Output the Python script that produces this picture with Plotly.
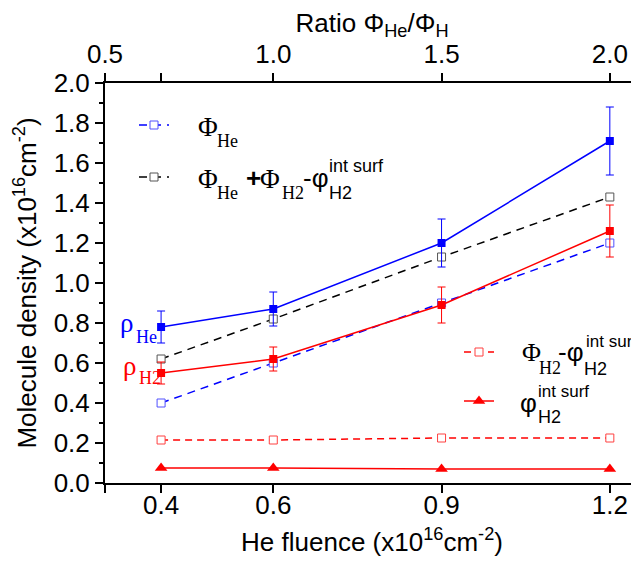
import plotly.graph_objects as go

# ---------------- data ----------------
fluence = [0.4, 0.6, 0.9, 1.2]
rho_he = [0.78, 0.87, 1.20, 1.71]
rho_he_err = [0.08, 0.085, 0.12, 0.17]
rho_h2 = [0.55, 0.62, 0.89, 1.26]
rho_h2_err = [0.055, 0.06, 0.09, 0.13]
phi_he = [0.40, 0.60, 0.90, 1.20]
phi_sum = [0.62, 0.82, 1.13, 1.43]
phi_h2_minus_surf = [0.215, 0.215, 0.225, 0.225]
phi_h2_surf = [0.075, 0.075, 0.07, 0.07]

x_tick_vals = [0.3, 0.4, 0.6, 0.9, 1.2]
x_tick_text = ["", "0.4", "0.6", "0.9", "1.2"]
ratio_tick_vals = [0.5, 0.4 / 0.6, 1.0, 1.5, 2.0]
ratio_tick_text = ["0.5", "", "1.0", "1.5", "2.0"]
y_tick_vals = [0.0, 0.2, 0.4, 0.6, 0.8, 1.0, 1.2, 1.4, 1.6, 1.8, 2.0]

X_RANGE = [0.3, 1.252]
RATIO_PER_FLUENCE = 1 / 0.6

BLUE = "#0000ff"
RED = "#ff0000"
SANS = "Arial, Liberation Sans, sans-serif"
SERIF = "Times New Roman, Liberation Serif, serif"

# page has an 8px body margin: figure origin sits at page (8, 8)
OFF = 8
W, H = 639 - OFF, 561 - OFF
ML, MR, MT, MB = 105 - OFF, 0, 83 - OFF, 78

fig = go.Figure()

fig.add_trace(go.Scatter(
    x=fluence, y=phi_h2_surf, mode="lines+markers", name=" ",
    line=dict(color=RED, width=1.5),
    marker=dict(symbol="triangle-up", size=11, color=RED),
    legend="legend4"))
fig.add_trace(go.Scatter(
    x=fluence, y=phi_h2_minus_surf, mode="lines+markers", name=" ",
    line=dict(color=RED, width=1.5, dash="7px,5px"),
    marker=dict(symbol="square", size=8, color="white",
                line=dict(color="#ff4040", width=1)),
    legend="legend3"))
fig.add_trace(go.Scatter(
    x=fluence, y=phi_he, mode="lines+markers", name=" ",
    line=dict(color=BLUE, width=1.5, dash="8px,6px"),
    marker=dict(symbol="square", size=8, color="white",
                line=dict(color="#5050ff", width=1)),
    legend="legend"))
fig.add_trace(go.Scatter(
    x=fluence, y=phi_sum, mode="lines+markers", name=" ",
    line=dict(color="black", width=1.5, dash="8px,6px"),
    marker=dict(symbol="square", size=8, color="white",
                line=dict(color="#555555", width=1)),
    legend="legend2"))
fig.add_trace(go.Scatter(
    x=fluence, y=rho_h2, mode="lines+markers", showlegend=False,
    line=dict(color=RED, width=1.5),
    marker=dict(symbol="square", size=8, color=RED),
    error_y=dict(type="data", array=rho_h2_err, color=RED, thickness=1, width=4)))
fig.add_trace(go.Scatter(
    x=fluence, y=rho_he, mode="lines+markers", showlegend=False,
    line=dict(color=BLUE, width=1.5),
    marker=dict(symbol="square", size=8, color=BLUE),
    error_y=dict(type="data", array=rho_he_err, color=BLUE, thickness=1, width=4)))
# invisible trace to activate top axis
fig.add_trace(go.Scatter(
    x=[v * RATIO_PER_FLUENCE for v in fluence], y=phi_he, xaxis="x2",
    mode="markers", marker=dict(opacity=0), showlegend=False, hoverinfo="skip"))


def px(xp):
    # xp: page pixel
    return (xp - OFF - ML) / (W - ML - MR)


def py(yp):
    return (H - MB - (yp - OFF)) / (H - MT - MB)


annots = []


def txt(s, xp, yp, size, family, color="black", bold=False):
    if bold:
        s = "<b>" + s + "</b>"
    annots.append(dict(text=s, x=px(xp), y=py(yp), xref="paper", yref="paper",
                       xanchor="left", yanchor="middle", showarrow=False,
                       font=dict(size=size, family=family, color=color)))


# Legend 1 labels
txt("Φ", 196, 127, 27, SERIF)
txt("He", 215, 141, 18, SERIF)
txt("Φ", 196, 179, 27, SERIF)
txt("He", 215, 193, 18, SERIF)
txt("+", 244, 178, 26, SANS, bold=True)
txt("Φ", 258, 179, 27, SERIF)
txt("H2", 280, 193, 18, SERIF)
txt("-φ", 301, 178, 26, SANS)
txt("H2", 327, 193, 18, SANS)
txt("int surf", 327, 166, 18, SANS)
# Legend 2 labels
txt("Φ", 520, 352, 26, SERIF)
txt("H2", 537, 368, 18, SERIF)
txt("-φ", 556, 352, 26, SANS)
txt("H2", 582, 369, 18, SANS)
txt("int surf", 584, 341, 17, SANS)
txt("φ", 518, 403, 26, SANS)
txt("H2", 536, 417, 18, SANS)
txt("int surf", 536, 391, 17, SANS)
# rho labels
txt("ρ", 118, 323, 27, SERIF, BLUE)
txt("He", 134, 337, 18, SERIF, BLUE)
txt("ρ", 121, 366, 27, SERIF, RED)
txt("H2", 137, 378, 18, SERIF, RED)

axis_common = dict(showline=True, linewidth=2, linecolor="black", showgrid=False,
                   zeroline=False, ticks="outside", ticklen=8, tickwidth=2,
                   tickcolor="black", tickfont=dict(size=26, family=SANS, color="black"))

leg_common = dict(bgcolor="rgba(0,0,0,0)", borderwidth=0, font=dict(size=10),
                  xanchor="left", yanchor="middle", tracegroupgap=0)

fig.update_layout(
    width=W, height=H,
    margin=dict(l=ML, r=MR, t=MT, b=MB, autoexpand=False),
    paper_bgcolor="white", plot_bgcolor="white",
    font=dict(family=SANS, color="black"),
    xaxis=dict(range=X_RANGE, tickvals=x_tick_vals, ticktext=x_tick_text,
               ticklabelstandoff=-10,
               title=dict(text="He fluence (x10<sup>16</sup>cm<sup>-2</sup>)",
                          font=dict(size=26, family=SANS), standoff=14),
               **axis_common),
    xaxis2=dict(range=[X_RANGE[0] * RATIO_PER_FLUENCE, X_RANGE[1] * RATIO_PER_FLUENCE],
                overlaying="x", side="top", tickvals=ratio_tick_vals, ticktext=ratio_tick_text,
                title=dict(text="Ratio Φ<sub>He</sub>/Φ<sub>H</sub>",
                           font=dict(size=26, family=SANS), standoff=4),
                **axis_common),
    yaxis=dict(range=[0, 2.0], tickvals=y_tick_vals, tickformat=".1f",
               minor=dict(dtick=0.1, tick0=0, ticks="outside", ticklen=4, tickwidth=2,
                          tickcolor="black"),
               title=dict(text="Molecule density (x10<sup>16</sup>cm<sup>-2</sup>)",
                          font=dict(size=26, family=SANS), standoff=10),
               **axis_common),
    legend=dict(x=px(134), y=py(125), **leg_common),
    legend2=dict(x=px(134), y=py(177), **leg_common),
    legend3=dict(x=px(459), y=py(352), **leg_common),
    legend4=dict(x=px(459), y=py(401), **leg_common),
    annotations=annots,
    showlegend=True,
)

fig.write_html("out.html")
